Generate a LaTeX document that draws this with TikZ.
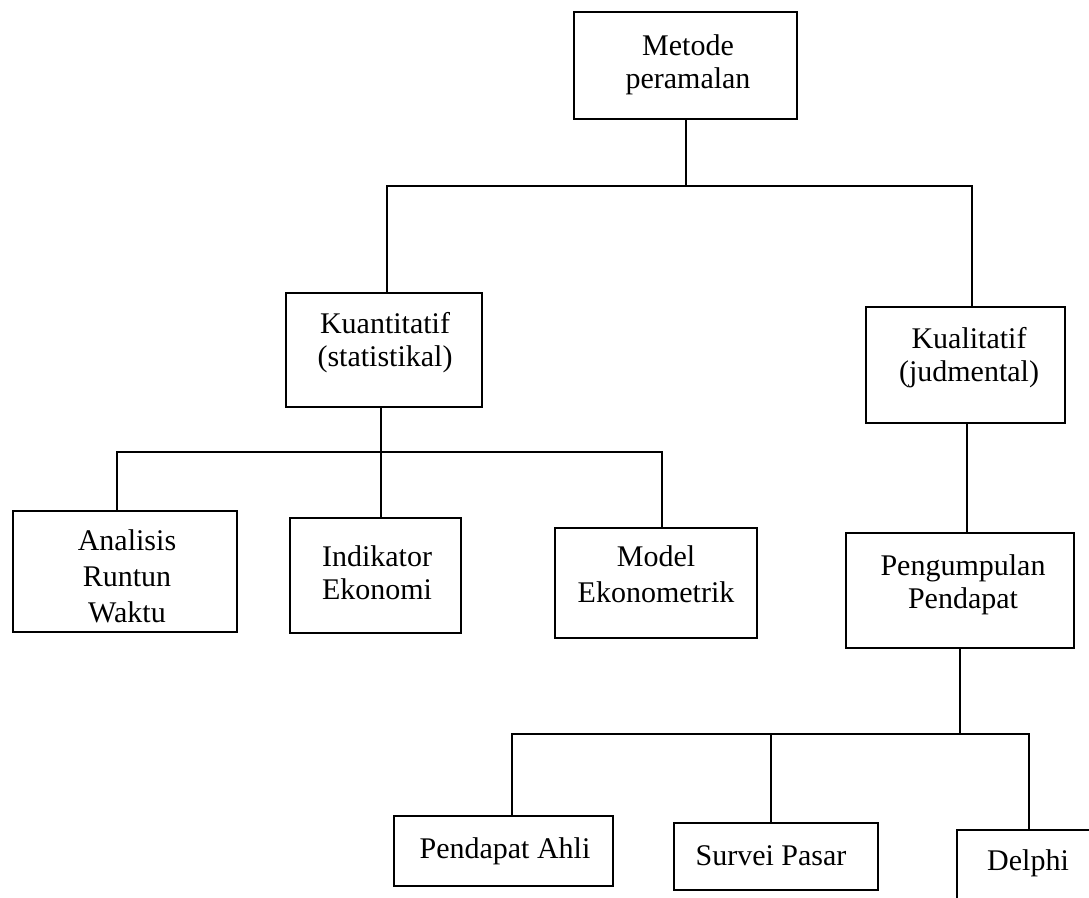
\documentclass[tikz,border=0pt]{standalone}
\usepackage{fontspec}
\setmainfont{Liberation Serif}
\begin{document}
\begin{tikzpicture}[x=1pt,y=-1pt,
  box/.style={draw, line width=1.6pt, anchor=north west, inner sep=0pt, outer sep=0pt},
  txt/.style={anchor=base, inner sep=0pt, font=\fontsize{30}{33}\selectfont},
  wide/.style={font=\fontsize{30}{36}\selectfont},
  ln/.style={line width=1.6pt}]
\useasboundingbox (0,0) rectangle (1089,897);
\clip (0,0) rectangle (1089,897);

% boxes
\node[box, minimum width=223pt, minimum height=107pt] (metode) at (574,12) {};
\node[box, minimum width=196pt, minimum height=114pt] (kuan) at (286,293) {};
\node[box, minimum width=199pt, minimum height=116pt] (kual) at (866,307) {};
\node[box, minimum width=224pt, minimum height=121pt] (anal) at (13,511) {};
\node[box, minimum width=171pt, minimum height=115pt] (indi) at (290,518) {};
\node[box, minimum width=202pt, minimum height=110pt] (model) at (555,528) {};
\node[box, minimum width=228pt, minimum height=115pt] (peng) at (846,533) {};
\node[box, minimum width=219pt, minimum height=70pt] (ahli) at (394,816) {};
\node[box, minimum width=204pt, minimum height=67pt] (survei) at (674,823) {};
\node[box, minimum width=170pt, minimum height=100pt] (delphi) at (957,830) {};

% texts
\node[txt] (tmetode) at (688,55) {\begin{tabular}[t]{@{}c@{}}Metode\\peramalan\end{tabular}};
\node[txt] (tkuan) at (385,333) {\begin{tabular}[t]{@{}c@{}}Kuantitatif\\(statistikal)\end{tabular}};
\node[txt] (tkual) at (969,348) {\begin{tabular}[t]{@{}c@{}}Kualitatif\\(judmental)\end{tabular}};
\node[txt,wide] (tanal) at (127,550) {\begin{tabular}[t]{@{}c@{}}Analisis\\Runtun\\Waktu\end{tabular}};
\node[txt] (tindi) at (377,566) {\begin{tabular}[t]{@{}c@{}}Indikator\\Ekonomi\end{tabular}};
\node[txt,wide] (tmodel) at (656,566) {\begin{tabular}[t]{@{}c@{}}Model\\Ekonometrik\end{tabular}};
\node[txt] (tpeng) at (963,575) {\begin{tabular}[t]{@{}c@{}}Pengumpulan\\Pendapat\end{tabular}};
\node[txt] (tahli) at (505,858) {Pendapat Ahli};
\node[txt] (tsurvei) at (771,865) {Survei Pasar};
\node[txt] (tdelphi) at (1028,870) {Delphi};

% junction coordinates
\coordinate (j1) at (686,186);
\coordinate (j1l) at (387,186);
\coordinate (j1r) at (972,186);
\coordinate (j2) at (381,452);
\coordinate (j2l) at (117,452);
\coordinate (j2r) at (662,452);
\coordinate (j3) at (960,734);
\coordinate (j3l) at (512,734);
\coordinate (j3m) at (771,734);
\coordinate (j3r) at (1029,734);

% connectors
\draw[ln] (metode.south -| j1) -- (j1);
\draw[ln] (j1l |- kuan.north) -- (j1l) -- (j1r) -- (j1r |- kual.north);

\draw[ln] (kuan.south -| j2) -- (j2 |- indi.north);
\draw[ln] (j2l |- anal.north) -- (j2l) -- (j2r) -- (j2r |- model.north);

\draw[ln] (kual.south -| 967,0) -- (peng.north -| 967,0);

\draw[ln] (peng.south -| j3) -- (j3);
\draw[ln] (j3l |- ahli.north) -- (j3l) -- (j3r) -- (j3r |- delphi.north);
\draw[ln] (j3m) -- (j3m |- survei.north);
\end{tikzpicture}
\end{document}
